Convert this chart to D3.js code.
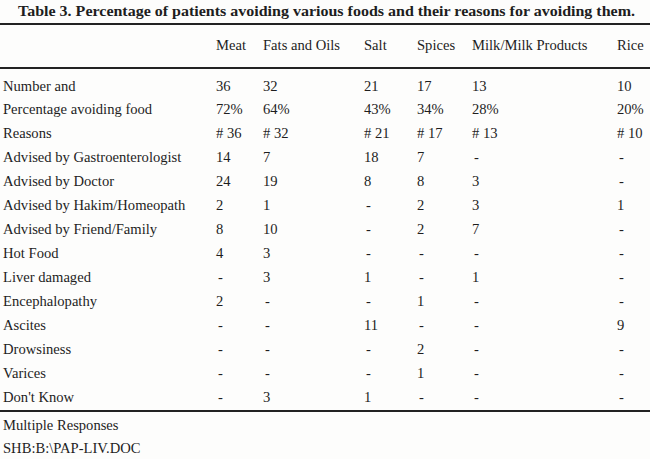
<!DOCTYPE html>
<html>
<head>
<meta charset="utf-8">
<script src="https://cdn.jsdelivr.net/npm/d3@7"></script>
<style>
  body { margin: 0; background: #fdfdfc; }
  svg { display: block; }
  text { font-family: "Liberation Serif", "Times New Roman", serif; fill: #1e1e1e; }
</style>
</head>
<body>
<svg id="chart" width="650" height="459"></svg>
<script>
// foods (columns)
var foods = ["Meat", "Fats and Oils", "Salt", "Spices", "Milk/Milk Products", "Rice"];
var numberAvoiding = [36, 32, 21, 17, 13, 10];
var percentAvoiding = [72, 64, 43, 34, 28, 20];

var reasonLabels = ["Advised by Gastroenterologist", "Advised by Doctor", "Advised by Hakim/Homeopath",
    "Advised by Friend/Family", "Hot Food", "Liver damaged", "Encephalopathy", "Ascites",
    "Drowsiness", "Varices", "Don't Know"];

// reason counts per food, null = "-"
var meatReasons   = [14, 24, 2, 8, 4, null, 2, null, null, null, null];
var fatsReasons   = [7, 19, 1, 10, 3, 3, null, null, null, null, 3];
var saltReasons   = [18, 8, null, null, null, 1, null, 11, null, null, 1];
var spicesReasons = [7, 8, 2, 2, null, null, 1, null, 2, 1, null];
var milkReasons   = [null, 3, 3, 7, null, 1, null, null, null, null, null];
var riceReasons   = [null, null, 1, null, null, null, null, 9, null, null, null];

var reasonsByFood = [meatReasons, fatsReasons, saltReasons, spicesReasons, milkReasons, riceReasons];

var rowLabels = ["Number and", "Percentage avoiding food", "Reasons"].concat(reasonLabels);

var svg = d3.select("#chart");
var fs = 14.6;

var x = d3.scaleOrdinal()
    .domain(foods)
    .range([216, 263, 364, 417, 472, 617]);

var y = d3.scalePoint()
    .domain(d3.range(rowLabels.length))
    .range([90.5, 402]);

var fmt = function (v) { return v == null ? "-" : String(v); };

// title
svg.append("text")
    .attr("x", 18)
    .attr("y", 16)
    .attr("font-weight", "bold")
    .attr("font-size", 14)
    .attr("textLength", 617)
    .attr("lengthAdjust", "spacingAndGlyphs")
    .text("Table 3. Percentage of patients avoiding various foods and their reasons for avoiding them.");

// rules
[[24, 2], [68, 2], [411, 2]].forEach(function (r) {
    svg.append("line")
        .attr("x1", 0).attr("x2", 650)
        .attr("y1", r[0]).attr("y2", r[0])
        .attr("stroke", "#222")
        .attr("stroke-width", r[1]);
});

// column headers
svg.selectAll("text.head")
    .data(foods)
    .enter().append("text")
    .attr("class", "head")
    .attr("x", function (d) { return x(d); })
    .attr("y", 50)
    .attr("font-size", fs)
    .text(function (d) { return d; });

// row labels
svg.selectAll("text.rowlab")
    .data(rowLabels)
    .enter().append("text")
    .attr("class", "rowlab")
    .attr("x", 3)
    .attr("y", function (d, i) { return y(i); })
    .attr("font-size", fs)
    .text(function (d) { return d; });

// cells
foods.forEach(function (food, j) {
    var cells = [String(numberAvoiding[j]), percentAvoiding[j] + "%", "# " + numberAvoiding[j]]
        .concat(reasonsByFood[j].map(fmt));
    svg.selectAll("text.c" + j)
        .data(cells)
        .enter().append("text")
        .attr("class", "c" + j)
        .attr("x", function (d) { return d == "-" ? x(food) + 2 : x(food); })
        .attr("y", function (d, i) { return y(i); })
        .attr("font-size", fs)
        .text(function (d) { return d; });
});

// footer notes
svg.append("text").attr("x", 3).attr("y", 430).attr("font-size", fs).text("Multiple Responses");
svg.append("text").attr("x", 3).attr("y", 453).attr("font-size", fs).text("SHB:B:\\PAP-LIV.DOC");
</script>
</body>
</html>
